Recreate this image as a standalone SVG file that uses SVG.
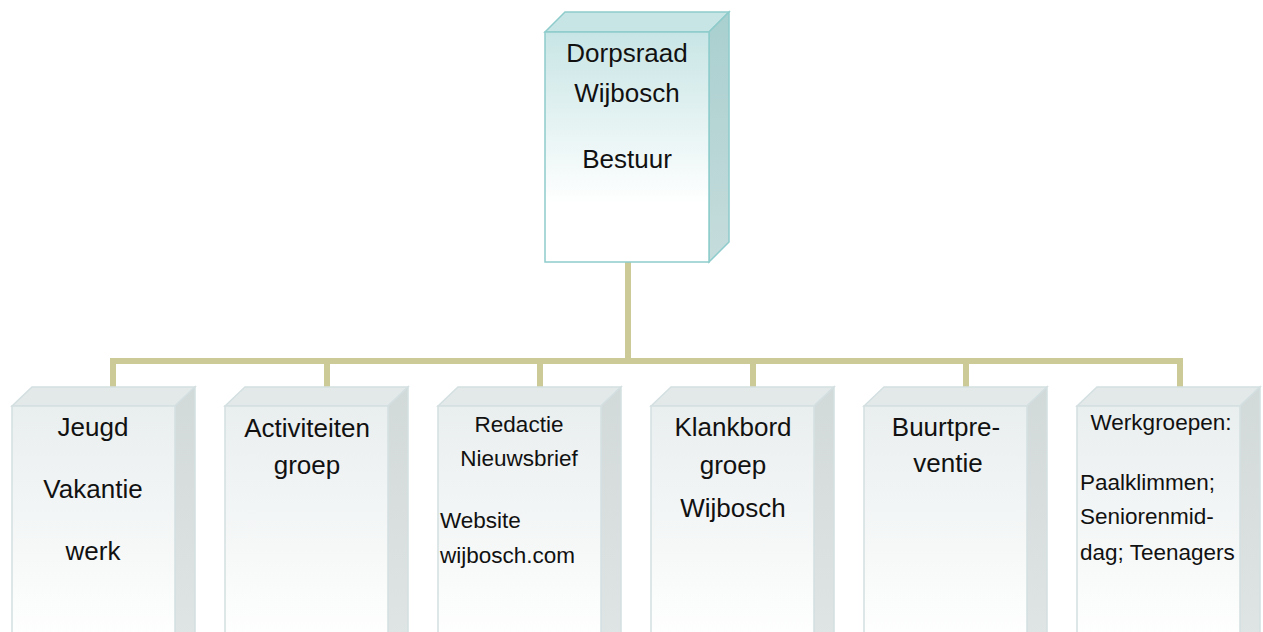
<svg xmlns="http://www.w3.org/2000/svg" width="1263" height="632" viewBox="0 0 1263 632">
<style>
text{font-family:"Liberation Sans",Arial,sans-serif;fill:#111;}
.t{font-size:26px;text-anchor:middle;}
.s{font-size:22.5px;text-anchor:middle;}
.l{font-size:22.5px;}
.conn{stroke:#cccb98;stroke-width:6;fill:none;}
.bf{fill:url(#gb);stroke:#d3dfe1;stroke-width:1.5;}
.bt{fill:#e3e9e9;stroke:#d3dfe1;stroke-width:1.5;}
.br{fill:url(#gbr);stroke:#d3dfe1;stroke-width:1.5;}
</style>
<defs>
<linearGradient id="gt" x1="0" y1="0" x2="0" y2="1"><stop offset="0" stop-color="#c8e5e5"/><stop offset="0.75" stop-color="#ffffff"/></linearGradient>
<linearGradient id="gtr" x1="0" y1="0" x2="0" y2="1"><stop offset="0" stop-color="#a9cfcf"/><stop offset="1" stop-color="#c6dcdc"/></linearGradient>
<linearGradient id="gb" x1="0" y1="0" x2="0" y2="1"><stop offset="0" stop-color="#e9eeee"/><stop offset="1" stop-color="#ffffff"/></linearGradient>
<linearGradient id="gbr" x1="0" y1="0" x2="0" y2="1"><stop offset="0" stop-color="#d2d9d9"/><stop offset="1" stop-color="#dfe4e4"/></linearGradient>
</defs>
<g id="connectors">
<path class="conn" d="M628 262 V361 M113 388 V361 H1180 V388 M327 361 V388 M540 361 V388 M753 361 V388 M966 361 V388"/>
</g>
<g id="node-top">
<path d="M545 32 L565 12 L729 12 L709 32 Z" fill="#c8e5e5" stroke="#8ecccc" stroke-width="1.5"/>
<path d="M709 32 L729 12 L729 242 L709 262 Z" fill="url(#gtr)" stroke="#8ecccc" stroke-width="1.5"/>
<rect x="545" y="32" width="164" height="230" fill="url(#gt)" stroke="#8ecccc" stroke-width="1.5"/>
<text class="t" x="627" y="62">Dorpsraad</text>
<text class="t" x="627" y="102">Wijbosch</text>
<text class="t" x="627" y="168">Bestuur</text>
</g>
<g id="node-jeugd">
<path class="bt" d="M12 406 L32 387 L195 387 L175 406 Z"/>
<path class="br" d="M175 406 L195 387 L195 640 L175 640 Z"/>
<rect class="bf" x="12" y="406" width="163" height="240"/>
<text class="t" x="93" y="436">Jeugd</text>
<text class="t" x="93" y="498">Vakantie</text>
<text class="t" x="93" y="560">werk</text>
</g>
<g id="node-activiteiten">
<path class="bt" d="M225 406 L245 387 L408 387 L388 406 Z"/>
<path class="br" d="M388 406 L408 387 L408 640 L388 640 Z"/>
<rect class="bf" x="225" y="406" width="163" height="240"/>
<text class="t" x="307" y="437">Activiteiten</text>
<text class="t" x="307" y="474">groep</text>
</g>
<g id="node-redactie">
<path class="bt" d="M438 406 L458 387 L621 387 L601 406 Z"/>
<path class="br" d="M601 406 L621 387 L621 640 L601 640 Z"/>
<rect class="bf" x="438" y="406" width="163" height="240"/>
<text class="s" x="519" y="432">Redactie</text>
<text class="s" x="519" y="466">Nieuwsbrief</text>
<text class="l" x="440" y="528">Website</text>
<text class="l" x="440" y="563">wijbosch.com</text>
</g>
<g id="node-klankbord">
<path class="bt" d="M651 406 L671 387 L834 387 L814 406 Z"/>
<path class="br" d="M814 406 L834 387 L834 640 L814 640 Z"/>
<rect class="bf" x="651" y="406" width="163" height="240"/>
<text class="t" x="733" y="436">Klankbord</text>
<text class="t" x="733" y="474">groep</text>
<text class="t" x="733" y="517">Wijbosch</text>
</g>
<g id="node-buurtpreventie">
<path class="bt" d="M864 406 L884 387 L1047 387 L1027 406 Z"/>
<path class="br" d="M1027 406 L1047 387 L1047 640 L1027 640 Z"/>
<rect class="bf" x="864" y="406" width="163" height="240"/>
<text class="t" x="946" y="436">Buurtpre-</text>
<text class="t" x="948" y="472">ventie</text>
</g>
<g id="node-werkgroepen">
<path class="bt" d="M1077 406 L1097 387 L1260 387 L1240 406 Z"/>
<path class="br" d="M1240 406 L1260 387 L1260 640 L1240 640 Z"/>
<rect class="bf" x="1077" y="406" width="163" height="240"/>
<text class="s" x="1161" y="430">Werkgroepen:</text>
<text class="l" x="1080" y="490">Paalklimmen;</text>
<text class="l" x="1080" y="524">Seniorenmid-</text>
<text class="l" x="1080" y="560">dag; Teenagers</text>
</g>
</svg>
